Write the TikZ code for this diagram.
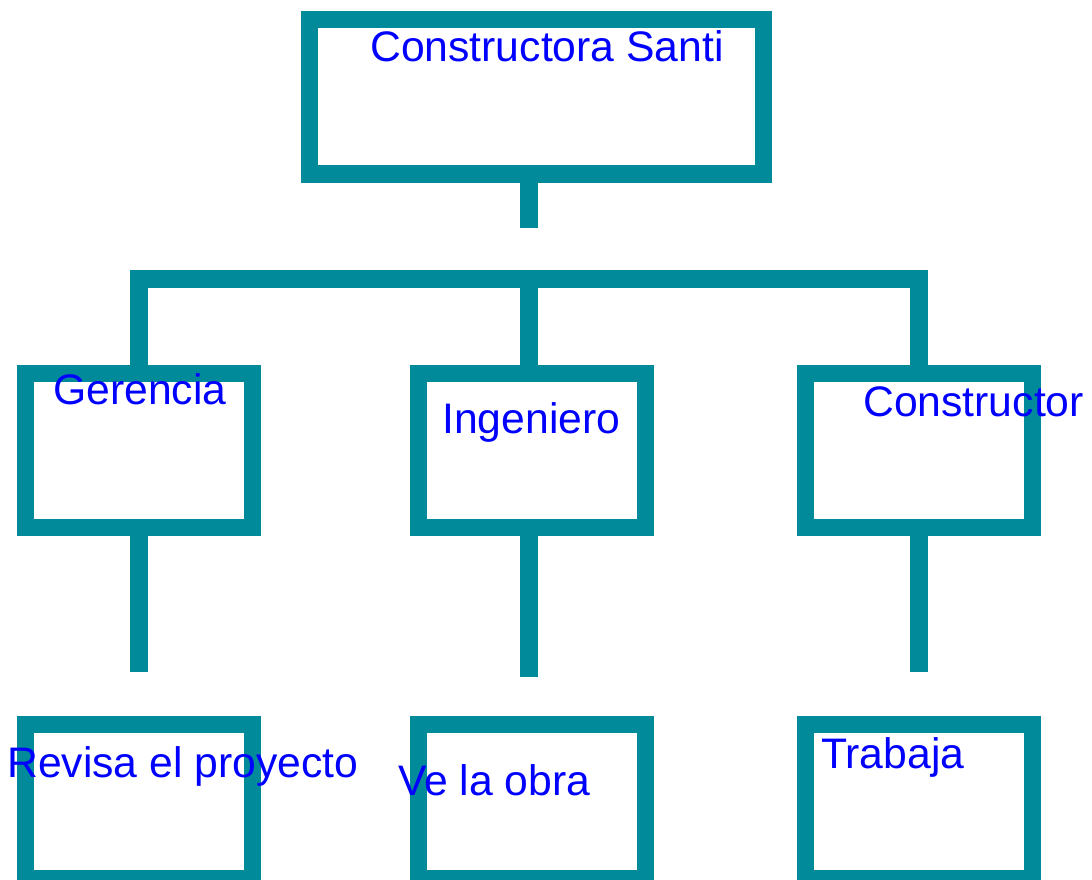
\documentclass[tikz,border=0pt]{standalone}
\usepackage{fontspec}
\setmainfont{Liberation Sans}
\definecolor{teal1}{RGB}{0,138,154}
\definecolor{txtblue}{RGB}{0,0,255}
\begin{document}
\begin{tikzpicture}[x=1pt,y=-1pt,
  box/.style={draw=teal1,line width=17.4pt,rectangle,inner sep=0pt,minimum height=154.5pt},
  conn/.style={draw=teal1,line width=17.4pt,line cap=butt,line join=miter},
  lbl/.style={anchor=base west,inner sep=0pt,text=txtblue,font=\fontsize{42.7}{50}\selectfont}]
\useasboundingbox (0,0) rectangle (1092,879);
% boxes
\node[box,minimum width=453.75pt,minimum height=154.25pt] (top) at (536.6,96.9) {};
\node[box,minimum width=226.7pt] (g) at (138.9,450.5) {};
\node[box,minimum width=227.4pt] (i) at (532,450.5) {};
\node[box,minimum width=227pt] (c) at (919,450.5) {};
\node[box,minimum width=226.7pt,minimum height=154.3pt] (rv) at (138.9,801.5) {};
\node[box,minimum width=226.7pt,minimum height=154.3pt] (vo) at (532.1,801.5) {};
\node[box,minimum width=227pt,minimum height=154.3pt] (tr) at (919,801.5) {};
% connectors
\coordinate (stub) at (529,228);
\coordinate (bar) at (529,279);
\coordinate (ge) at (139,671.7);
\coordinate (ie) at (529,677.3);
\coordinate (ce) at (919,671.7);
\draw[conn] (stub |- top.south) -- (stub);
\draw[conn] (ge |- g.north) |- (bar) -| (ce |- c.north);
\draw[conn] (bar) -- (bar |- i.north);
\draw[conn] (ge |- g.south) -- (ge);
\draw[conn] (ie |- i.south) -- (ie);
\draw[conn] (ce |- c.south) -- (ce);
% labels
\node[lbl] (ttop) at (370,61) {Constructora Santi};
\node[lbl] (tg) at (53,404.3) {Gerencia};
\node[lbl] (ti) at (442,433.3) {Ingeniero};
\node[lbl] (tc) at (863,416.7) {Constructor};
\node[lbl] (trv) at (7,777) {Revisa el proyecto};
\node[lbl] (tvo) at (398,795.7) {Ve la obra};
\node[lbl] (ttr) at (821,768.3) {Trabaja};
\end{tikzpicture}
\end{document}
